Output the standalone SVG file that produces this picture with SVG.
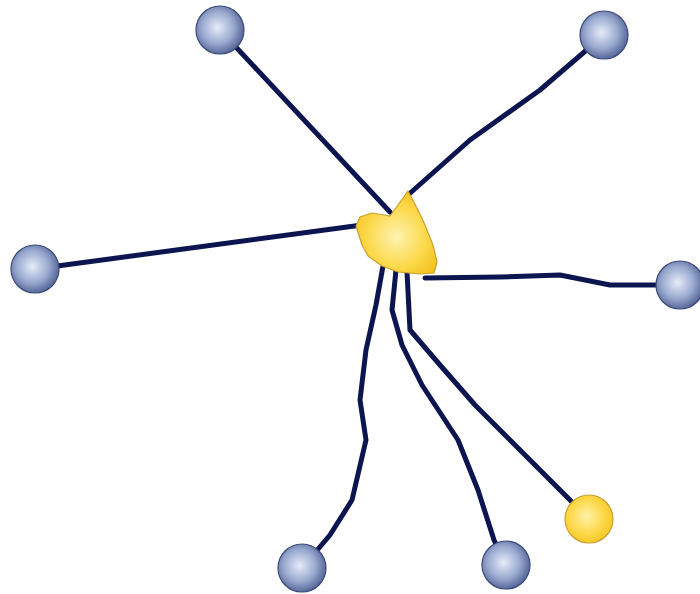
<svg xmlns="http://www.w3.org/2000/svg" width="700" height="594" viewBox="0 0 700 594">
<defs>
<radialGradient id="blue" cx="45%" cy="45%" r="60%">
<stop offset="0" stop-color="#e6ecf8"/>
<stop offset="0.55" stop-color="#9aaad0"/>
<stop offset="1" stop-color="#4a5a8e"/>
</radialGradient>
<radialGradient id="gold" cx="45%" cy="45%" r="60%">
<stop offset="0" stop-color="#fff2a8"/>
<stop offset="0.6" stop-color="#fdd84a"/>
<stop offset="1" stop-color="#f5c520"/>
</radialGradient>
<radialGradient id="hub" cx="50%" cy="55%" r="60%">
<stop offset="0" stop-color="#fff3b0"/>
<stop offset="0.6" stop-color="#fcd94c"/>
<stop offset="1" stop-color="#f3c21e"/>
</radialGradient>
</defs>
<style>
.edge{fill:none;stroke:#0c1550;stroke-width:5;stroke-linecap:round;stroke-linejoin:round}
.bn{fill:url(#blue);stroke:#3a4a7a;stroke-width:1.2}
.yn{fill:url(#gold);stroke:#c8a030;stroke-width:1.2}
</style>
<rect width="700" height="594" fill="#ffffff"/>
<g id="connectors">
<path class="edge" d="M220,30 L390,212"/>
<path class="edge" d="M604,35 L540,90 L470,140 L408,195"/>
<path class="edge" d="M35,269 L362,225"/>
<path class="edge" d="M425,278 L500,277 L560,275 L610,285 L680,285"/>
<path class="edge" d="M383,266 L376,305 L366,350 L360,400 L366,440 L352,500 L330,535 L302,568"/>
<path class="edge" d="M396,270 L392,310 L402,345 L422,385 L458,440 L478,490 L494,540 L506,565"/>
<path class="edge" d="M407,272 L410,330 L440,365 L475,405 L530,460 L589,519"/>
</g>
<g id="hub-node">
<path d="M408,191 L398,205 L390,216 L372,213 L360,217 L356,226 L362,245 L368,256 L382,266 L398,272 L420,274 L434,273 L437,262 L433,245 L425,225 L418,210 Z" fill="url(#hub)" stroke="#c8a030" stroke-width="1.2" stroke-linejoin="round"/>
</g>
<g id="node-top-left"><circle class="bn" cx="220" cy="30" r="24"/></g>
<g id="node-top-right"><circle class="bn" cx="604" cy="35" r="24"/></g>
<g id="node-left"><circle class="bn" cx="35" cy="269" r="24"/></g>
<g id="node-right"><circle class="bn" cx="680" cy="285" r="24"/></g>
<g id="node-bottom-left"><circle class="bn" cx="302" cy="568" r="24"/></g>
<g id="node-bottom-mid"><circle class="bn" cx="506" cy="565" r="24"/></g>
<g id="node-yellow"><circle class="yn" cx="589" cy="519" r="24"/></g>
</svg>
